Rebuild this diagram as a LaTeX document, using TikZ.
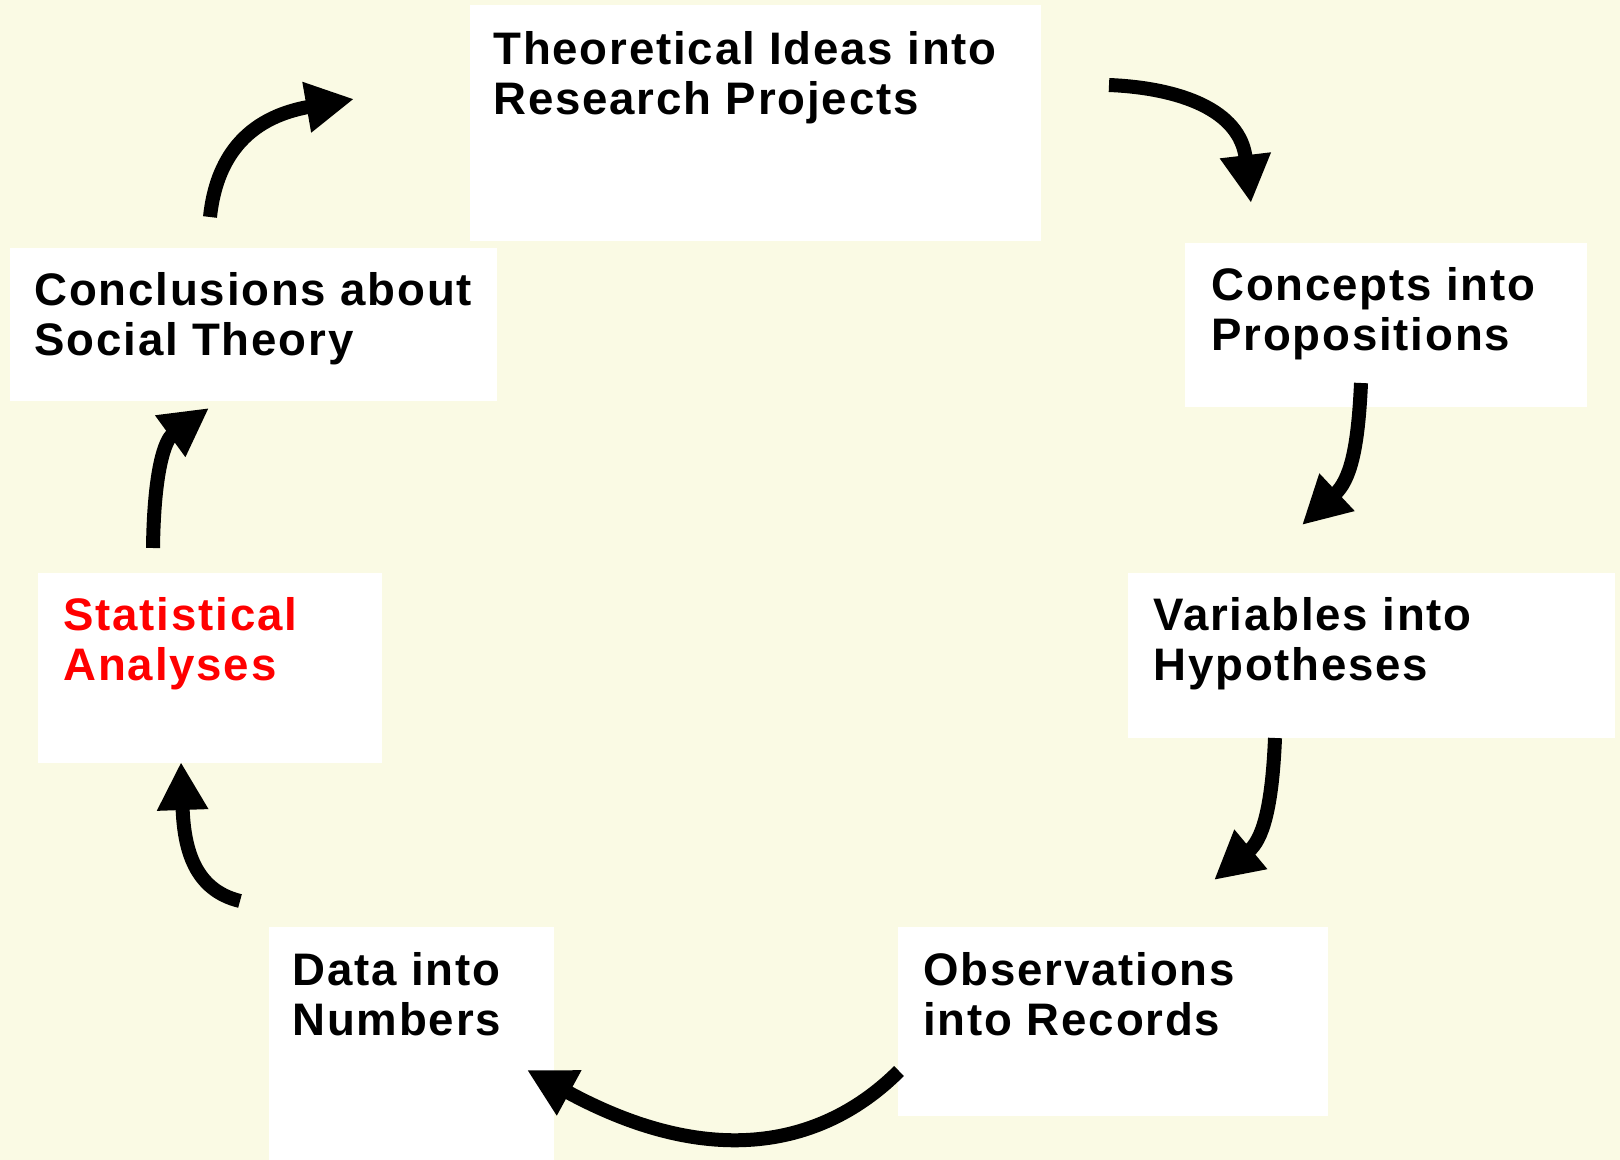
\documentclass[tikz,border=0pt]{standalone}
\usepackage{fontspec}
\setmainfont{Liberation Sans}
\newfontfamily\boxfont{Liberation Sans}[LetterSpace=4.0]
\usetikzlibrary{arrows.meta}
\definecolor{bgyellow}{RGB}{250,250,228}
\definecolor{statred}{RGB}{255,0,0}
\begin{document}
\begin{tikzpicture}[x=0.5pt,y=-0.5pt,
  box/.style={fill=white, draw=none, inner sep=0pt, anchor=north west},
  lbl/.style={anchor=north west, inner sep=0pt, align=left,
    font=\boxfont\bfseries\fontsize{22.8}{25}\selectfont},
  flow/.style={line width=7pt, draw=black, -{Triangle[length=24pt,width=24pt]}}]
\fill[bgyellow] (0,0) rectangle (1620,1160);
\useasboundingbox (0,0) rectangle (1620,1160);
% boxes
\node[box, minimum width=285.5pt, minimum height=118pt] (theo) at (470,5) {};
\node[box, minimum width=201pt, minimum height=82pt] (conc) at (1185,243) {};
\node[box, minimum width=243.5pt, minimum height=82.5pt] (var) at (1128,573) {};
\node[box, minimum width=215pt, minimum height=94.5pt] (obs) at (898,927) {};
\node[box, minimum width=142.5pt, minimum height=116.5pt] (data) at (269,927) {};
\node[box, minimum width=172pt, minimum height=95pt] (stat) at (38,573) {};
\node[box, minimum width=243.5pt, minimum height=76.5pt] (concl) at (10,248) {};
% labels
\node[lbl] (theoT) at (493,31) {Theoretical Ideas into\\Research Projects};
\node[lbl] (concT) at (1211,267) {Concepts into\\Propositions};
\node[lbl] (varT) at (1153,597) {Variables into\\Hypotheses};
\node[lbl] (obsT) at (923,952) {Observations\\into Records};
\node[lbl] (dataT) at (292,952) {Data into\\Numbers};
\node[lbl, text=statred] (statT) at (63,597) {Statistical\\Analyses};
\node[lbl] (conclT) at (34,272) {Conclusions about\\Social Theory};
% connector ends
\coordinate (a1s) at (210,217); \coordinate (a1e) at (354,99);
\coordinate (a2s) at (1109,85); \coordinate (a2e) at (1251,203);
\coordinate (a3s) at (1361,383); \coordinate (a3e) at (1302,525);
\coordinate (a4s) at (1275,738); \coordinate (a4e) at (1214,880);
\coordinate (a5s) at (899,1071); \coordinate (a5e) at (527,1070);
\coordinate (a6s) at (240,901); \coordinate (a6e) at (181,762);
\coordinate (a7s) at (153,548); \coordinate (a7e) at (209,408);
% connectors
\draw[flow] (a1s) .. controls (216,160) and (245,118) .. (a1e);
\draw[flow] (a2s) .. controls (1180,88) and (1240,110) .. (a2e);
\draw[flow] (a3s) .. controls (1358,450) and (1350,480) .. (a3e);
\draw[flow] (a4s) .. controls (1272,810) and (1262,840) .. (a4e);
\draw[flow] (a5s) .. controls (830,1140) and (720,1175) .. (a5e);
\draw[flow] (a6s) .. controls (195,890) and (184,850) .. (a6e);
\draw[flow] (a7s) .. controls (154,470) and (165,440) .. (a7e);
\end{tikzpicture}
\end{document}
